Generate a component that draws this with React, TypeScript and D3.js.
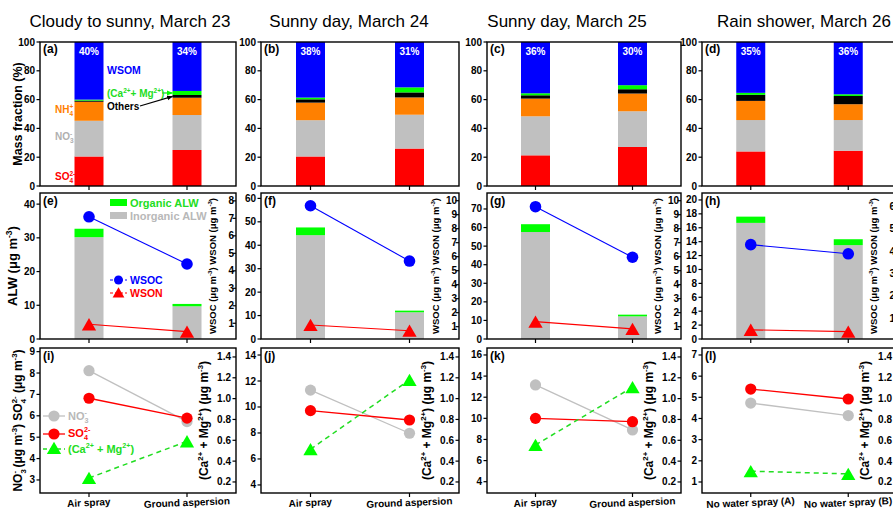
import React, { useEffect } from "react";
import * as d3 from "d3";

const W = 893, H = 512;
const FONT = "'Liberation Sans', Arial, Helvetica, sans-serif";

// ---------- text / categories ----------
const titles = ["Cloudy to sunny, March 23", "Sunny day, March 24", "Sunny day, March 25", "Rain shower, March 26"];
const letters = [["(a)", "(b)", "(c)", "(d)"], ["(e)", "(f)", "(g)", "(h)"], ["(i)", "(j)", "(k)", "(l)"]];
const categories = [
  ["Air spray", "Ground aspersion"],
  ["Air spray", "Ground aspersion"],
  ["Air spray", "Ground aspersion"],
  ["No water spray (A)", "No water spray (B)"],
];

// ---------- row 1: mass fraction (%) ----------
const so4Frac = [[20.5, 25.0], [20.5, 26.0], [21.3, 27.1], [24.0, 24.5]];
const no3Frac = [[24.8, 24.3], [25.2, 23.5], [27.1, 24.8], [21.8, 21.3]];
const nh4Frac = [[13.2, 12.0], [12.2, 12.0], [12.3, 12.3], [13.3, 11.0]];
const othersFrac = [[0.8, 1.9], [2.3, 3.5], [2.3, 3.0], [4.2, 5.7]];
const camgFrac = [[0.7, 2.8], [1.2, 3.5], [1.4, 2.8], [1.4, 1.2]];
const wsomFrac = [[40.0, 34.0], [38.6, 31.5], [35.6, 30.0], [35.3, 36.3]];
const wsomLabels = [["40%", "34%"], ["38%", "31%"], ["36%", "30%"], ["35%", "36%"]];
const massTicks = [0, 20, 40, 60, 80, 100];

// ---------- row 2: ALW, WSOC, WSON ----------
const inorgALW = [[30.2, 9.7], [44.3, 11.4], [57.6, 12.2], [16.7, 13.5]];
const orgALW = [[2.5, 0.7], [3.3, 0.7], [4.2, 0.9], [0.9, 0.85]];
const wsoc = [[7.09, 4.39], [9.64, 5.69], [9.57, 5.96], [4.29, 3.88]];
const wson = [[0.94, 0.52], [1.12, 0.71], [1.36, 0.84], [0.48, 0.40]];
const alwDomain = [[0, 43.3], [0, 62.3], [0, 78.6], [0, 21]];
const alwTicks = [[0, 10, 20, 30, 40], [0, 10, 20, 30, 40, 50, 60], [0, 10, 20, 30, 40, 50, 60, 70], [0, 2, 4, 6, 8, 10, 12, 14, 16, 18, 20]];
const wsDomain = [[0.1, 8.45], [0.12, 10.55], [0.12, 10.55], [0.07, 6.6]];
const wsTicks = [[1, 2, 3, 4, 5, 6, 7, 8], [1, 2, 3, 4, 5, 6, 7, 8, 9, 10], [1, 2, 3, 4, 5, 6, 7, 8, 9, 10], [1, 2, 3, 4, 5, 6]];

// ---------- row 3: NO3-, SO4 2-, Ca+Mg ----------
const no3Conc = [[8.11, 5.73], [11.3, 7.98], [13.16, 8.9], [4.73, 4.14]];
const so4Conc = [[6.82, 5.89], [9.72, 9.0], [10.0, 9.68], [5.39, 4.92]];
const camgConc = [[0.238, 0.59], [0.514, 1.18], [0.555, 1.11], [0.303, 0.277]];
const ionDomain = [[2.39, 9.17], [3.38, 14.54], [2.93, 16.66], [0.48, 7.33]];
const ionTicks = [[3, 4, 5, 6, 7, 8, 9], [4, 6, 8, 10, 12, 14], [4, 6, 8, 10, 12, 14, 16], [1, 2, 3, 4, 5, 6, 7]];
const camgDomain = [0.094, 1.486];
const camgTicks = [0.2, 0.4, 0.6, 0.8, 1.0, 1.2, 1.4];

// ---------- layout ----------
const COLS = [
  { l: 40, r: 236, tx: 130 },
  { l: 261, r: 459, tx: 349 },
  { l: 487, r: 681, tx: 567 },
  { l: 702, r: 897, tx: 804 },
];
const R1 = { t: 42, b: 186 };
const R2 = { t: 193, b: 339 };
const R3 = { t: 348, b: 493 };
const BAR_W = 29;
const TRI_DY = 2; // places triangle's box centre on the value

const C = {
  red: "#FF0000",
  gray: "#C0C0C0",
  orange: "#FF8000",
  black: "#000000",
  green: "#00FF00",
  blue: "#0000FF",
  lgreen: "#22DD22",
};

const massKeys = ["so4", "no3", "nh4", "others", "camg", "wsom"];
const massColors: Record<string, string> = {
  so4: C.red, no3: C.gray, nh4: C.orange, others: C.black, camg: C.green, wsom: C.blue,
};

type Part = [string, string];
function Rich({ parts, fs, x = 0, y = 0, anchor = "start", fill = "#000", weight = "bold", transform }: any) {
  let cur = 0;
  let prevSub = "";
  const small = fs * 0.65;
  const spans = parts.map((p: Part, i: number) => {
    const [t, k] = p;
    const target = k === "sub" ? 0.3 * fs : k === "sup" || k === "supb" ? -0.42 * fs : 0;
    const dy = target - cur;
    cur = target;
    let dx = 0;
    if (k === "supb") dx = -prevSub.length * 0.556 * small;
    prevSub = k === "sub" ? t : "";
    return (
      <tspan key={i} dx={dx || undefined} dy={dy || undefined} fontSize={k ? small : fs}>
        {t}
      </tspan>
    );
  });
  return (
    <text x={x} y={y} textAnchor={anchor} fill={fill} fontWeight={weight} fontSize={fs} transform={transform}>
      {spans}
    </text>
  );
}

const UNIT: Part[] = [["(μg m", ""], ["-3", "sup"], [")", ""]];

function LeftAxis({ scale, ticks, x, fmt }: any) {
  return (
    <g>
      {ticks.map((t: number) => (
        <g key={t}>
          <line x1={x - 3.5} x2={x} y1={scale(t)} y2={scale(t)} stroke="#000" strokeWidth={1.2} />
          <text x={x - 5} y={scale(t) + 3.5} textAnchor="end" fontSize={10} fontWeight="bold">
            {fmt ? fmt(t) : t}
          </text>
        </g>
      ))}
    </g>
  );
}

function RightInnerAxis({ scale, ticks, x, fmt, gap = 5 }: any) {
  return (
    <g>
      {ticks.map((t: number) => (
        <g key={t}>
          <line x1={x - 3.5} x2={x} y1={scale(t)} y2={scale(t)} stroke="#000" strokeWidth={1.2} />
          <text x={x - gap} y={scale(t) + 3.5} textAnchor="end" fontSize={10} fontWeight="bold">
            {fmt ? fmt(t) : t}
          </text>
        </g>
      ))}
    </g>
  );
}

function BottomTicks({ xs, y }: any) {
  return (
    <g>
      {xs.map((x: number, i: number) => (
        <line key={i} x1={x} x2={x} y1={y} y2={y + 4} stroke="#000" strokeWidth={1.2} />
      ))}
    </g>
  );
}

function Box({ l, r, t, b }: any) {
  return <rect x={l} y={t} width={r - l} height={b - t} fill="none" stroke="#000" strokeWidth={1.4} />;
}

function MassPanel({ ci }: { ci: number }) {
  const col = COLS[ci];
  const x = d3.scalePoint<string>().domain(categories[ci]).range([col.l, col.r]).padding(0.5);
  const y = d3.scaleLinear().domain([0, 100]).range([R1.b, R1.t]);
  const rows = categories[ci].map((cat, j) => ({
    cat,
    so4: so4Frac[ci][j],
    no3: no3Frac[ci][j],
    nh4: nh4Frac[ci][j],
    others: othersFrac[ci][j],
    camg: camgFrac[ci][j],
    wsom: wsomFrac[ci][j],
  }));
  const series = d3.stack<any>().keys(massKeys)(rows);
  return (
    <g>
      <rect x={col.l} y={R1.t} width={col.r - col.l} height={R1.b - R1.t} fill="#fff" />
      {series.map((s) => (
        <g key={s.key} fill={massColors[s.key]}>
          {s.map((d: any, j: number) => (
            <rect
              key={j}
              x={(x(d.data.cat) as number) - BAR_W / 2}
              y={y(d[1])}
              width={BAR_W}
              height={Math.max(0, y(d[0]) - y(d[1]))}
            />
          ))}
        </g>
      ))}
      {categories[ci].map((cat, j) => (
        <text key={cat} x={x(cat)} y={R1.t + 13} textAnchor="middle" fill="#fff" fontSize={10} fontWeight="bold">
          {wsomLabels[ci][j]}
        </text>
      ))}
      <Box l={col.l} r={col.r} t={R1.t} b={R1.b} />
      <LeftAxis scale={y} ticks={massTicks} x={col.l} />
      <BottomTicks xs={categories[ci].map((c) => x(c))} y={R1.b} />
      <text x={col.l + 3} y={R1.t + 11} fontSize={12} fontWeight="bold">{letters[0][ci]}</text>
      {ci === 0 && <MassAnnotations x={x} y={y} rows={series} />}
    </g>
  );
}

function MassAnnotations({ x, y, rows }: any) {
  const cat2 = categories[0][1];
  const bx = (x(cat2) as number) - BAR_W / 2;
  const camgS = rows.find((s: any) => s.key === "camg")[1];
  const othS = rows.find((s: any) => s.key === "others")[1];
  const camgY = y((camgS[0] + camgS[1]) / 2);
  const othY = y((othS[0] + othS[1]) / 2);
  return (
    <g>
      <defs>
        <marker id="ahG" viewBox="0 0 10 10" refX="9" refY="5" markerWidth="5" markerHeight="5" orient="auto">
          <path d="M0,1 L10,5 L0,9 z" fill={C.green} />
        </marker>
        <marker id="ahK" viewBox="0 0 10 10" refX="9" refY="5" markerWidth="5" markerHeight="5" orient="auto">
          <path d="M0,1 L10,5 L0,9 z" fill="#000" />
        </marker>
      </defs>
      <text x={107} y={74} fill={C.blue} fontSize={10.5} fontWeight="bold">WSOM</text>
      <Rich x={107} y={97} fs={10} fill={C.lgreen}
        parts={[["(Ca", ""], ["2+", "sup"], ["+ Mg", ""], ["2+", "sup"], [")", ""]]} />
      <line x1={162} y1={camgY} x2={bx} y2={camgY} stroke={C.lgreen} strokeWidth={1.3} markerEnd="url(#ahG)" />
      <text x={107} y={110} fill="#000" fontSize={10} fontWeight="bold">Others</text>
      <line x1={140} y1={106} x2={bx} y2={othY} stroke="#000" strokeWidth={1.2} markerEnd="url(#ahK)" />
      <Rich x={55} y={113} fs={10} fill={C.orange} parts={[["NH", ""], ["4", "sub"], ["+", "supb"]]} />
      <Rich x={55} y={140} fs={10} fill="#b0b0b0" parts={[["NO", ""], ["3", "sub"], ["-", "supb"]]} />
      <Rich x={55} y={180} fs={10} fill={C.red} parts={[["SO", ""], ["4", "sub"], ["2-", "supb"]]} />
    </g>
  );
}

function AlwPanel({ ci }: { ci: number }) {
  const col = COLS[ci];
  const x = d3.scalePoint<string>().domain(categories[ci]).range([col.l, col.r]).padding(0.5);
  const yL = d3.scaleLinear().domain(alwDomain[ci]).range([R2.b, R2.t]);
  const yR = d3.scaleLinear().domain(wsDomain[ci]).range([R2.b, R2.t]);
  const cats = categories[ci];
  const line = d3.line<any>().x((d) => d[0]).y((d) => d[1]);
  const wsocPts = cats.map((c, j) => [x(c) as number, yR(wsoc[ci][j])]);
  const wsonPts = cats.map((c, j) => [x(c) as number, yR(wson[ci][j])]);
  const tri = d3.symbol().type(d3.symbolTriangle).size(88)();
  return (
    <g>
      <rect x={col.l} y={R2.t} width={col.r - col.l} height={R2.b - R2.t} fill="#fff" />
      {cats.map((c, j) => {
        const inorg = inorgALW[ci][j];
        const tot = inorg + orgALW[ci][j];
        const bx = (x(c) as number) - BAR_W / 2;
        return (
          <g key={c}>
            <rect x={bx} y={yL(inorg)} width={BAR_W} height={yL(0) - yL(inorg)} fill={C.gray} />
            <rect x={bx} y={yL(tot)} width={BAR_W} height={yL(inorg) - yL(tot)} fill={C.green} />
          </g>
        );
      })}
      <path d={line(wsocPts as any) || ""} stroke={C.blue} strokeWidth={1.1} fill="none" />
      <path d={line(wsonPts as any) || ""} stroke={C.red} strokeWidth={1.1} fill="none" />
      {wsocPts.map((p, j) => <circle key={j} cx={p[0]} cy={p[1]} r={5.8} fill={C.blue} />)}
      {wsonPts.map((p, j) => <path key={j} d={tri || ""} transform={`translate(${p[0]},${p[1] + TRI_DY})`} fill={C.red} />)}
      <Box l={col.l} r={col.r} t={R2.t} b={R2.b} />
      <LeftAxis scale={yL} ticks={alwTicks[ci]} x={col.l} />
      <RightInnerAxis scale={yR} ticks={wsTicks[ci]} x={col.r} gap={2} />
      <Rich transform={`translate(${col.r - 20},${(R2.t + R2.b) / 2}) rotate(-90)`} anchor="middle" fs={9.5}
        parts={[["WSOC ", ""], ...UNIT, [" WSON ", ""], ...UNIT]} />
      <BottomTicks xs={cats.map((c) => x(c))} y={R2.b} />
      <text x={col.l + 3} y={R2.t + 12} fontSize={12} fontWeight="bold">{letters[1][ci]}</text>
      {ci === 0 && <AlwLegend />}
    </g>
  );
}

function AlwLegend() {
  const tri = d3.symbol().type(d3.symbolTriangle).size(60)();
  return (
    <g>
      <rect x={110} y={199} width={17} height={7} fill={C.green} />
      <text x={130} y={207} fill={C.lgreen} fontSize={11} fontWeight="bold">Organic ALW</text>
      <rect x={110} y={212} width={17} height={7} fill={C.gray} />
      <text x={130} y={220} fill="#b8b8b8" fontSize={11} fontWeight="bold">Inorganic ALW</text>
      <line x1={110} x2={127} y1={280} y2={280} stroke={C.blue} strokeWidth={1.2} strokeDasharray="3,2" />
      <circle cx={118.5} cy={280} r={4.5} fill={C.blue} />
      <text x={130} y={284} fill={C.blue} fontSize={10.5} fontWeight="bold">WSOC</text>
      <line x1={110} x2={127} y1={293} y2={293} stroke={C.red} strokeWidth={1.2} strokeDasharray="3,2" />
      <path d={tri || ""} transform="translate(118.5,294)" fill={C.red} />
      <text x={130} y={297} fill={C.red} fontSize={10.5} fontWeight="bold">WSON</text>
    </g>
  );
}

function IonPanel({ ci }: { ci: number }) {
  const col = COLS[ci];
  const cats = categories[ci];
  const x = d3.scalePoint<string>().domain(cats).range([col.l, col.r]).padding(0.5);
  const yL = d3.scaleLinear().domain(ionDomain[ci]).range([R3.b, R3.t]);
  const yR = d3.scaleLinear().domain(camgDomain).range([R3.b, R3.t]);
  const line = d3.line<any>().x((d) => d[0]).y((d) => d[1]);
  const no3Pts = cats.map((c, j) => [x(c) as number, yL(no3Conc[ci][j])]);
  const so4Pts = cats.map((c, j) => [x(c) as number, yL(so4Conc[ci][j])]);
  const camgPts = cats.map((c, j) => [x(c) as number, yR(camgConc[ci][j])]);
  const tri = d3.symbol().type(d3.symbolTriangle).size(88)();
  const fmt = d3.format(".1f");
  return (
    <g>
      <rect x={col.l} y={R3.t} width={col.r - col.l} height={R3.b - R3.t} fill="#fff" />
      <path d={line(no3Pts as any) || ""} stroke={C.gray} strokeWidth={1.3} fill="none" />
      {no3Pts.map((p, j) => <circle key={j} cx={p[0]} cy={p[1]} r={5.6} fill={C.gray} />)}
      <path d={line(so4Pts as any) || ""} stroke={C.red} strokeWidth={1.3} fill="none" />
      {so4Pts.map((p, j) => <circle key={j} cx={p[0]} cy={p[1]} r={5.6} fill={C.red} />)}
      <path d={line(camgPts as any) || ""} stroke={C.lgreen} strokeWidth={1.5} strokeDasharray="5,4" fill="none" />
      {camgPts.map((p, j) => <path key={j} d={tri || ""} transform={`translate(${p[0]},${p[1] + TRI_DY})`} fill={C.green} />)}
      <Box l={col.l} r={col.r} t={R3.t} b={R3.b} />
      <LeftAxis scale={yL} ticks={ionTicks[ci]} x={col.l} />
      <RightInnerAxis scale={yR} ticks={camgTicks} x={col.r} fmt={fmt} gap={5} />
      <Rich transform={`translate(${col.r - 28},${(R3.t + R3.b) / 2}) rotate(-90)`} anchor="middle" fs={12}
        parts={[["(Ca", ""], ["2+", "sup"], [" + Mg", ""], ["2+", "sup"], [") ", ""], ...UNIT]} />
      <BottomTicks xs={cats.map((c) => x(c))} y={R3.b} />
      {cats.map((c) => (
        <text key={c} transform={`translate(${x(c)},${R3.b + 13}) rotate(-2.5)`} textAnchor="middle"
          fontSize={10} fontWeight="bold">{c}</text>
      ))}
      <text x={col.l + 3} y={R3.t + 12} fontSize={12} fontWeight="bold">{letters[2][ci]}</text>
      {ci === 0 && <IonLegend />}
    </g>
  );
}

function IonLegend() {
  const tri = d3.symbol().type(d3.symbolTriangle).size(88)();
  return (
    <g>
      <line x1={43} x2={65} y1={416} y2={416} stroke={C.gray} strokeWidth={1.3} />
      <circle cx={54} cy={416} r={5.6} fill={C.gray} />
      <Rich x={68} y={420} fs={11} fill="#b8b8b8" parts={[["NO", ""], ["3", "sub"], ["-", "supb"]]} />
      <line x1={43} x2={65} y1={434} y2={434} stroke={C.red} strokeWidth={1.3} />
      <circle cx={54} cy={434} r={5.6} fill={C.red} />
      <Rich x={68} y={437} fs={11} fill={C.red} parts={[["SO", ""], ["4", "sub"], ["2-", "supb"]]} />
      <line x1={43} x2={65} y1={449} y2={449} stroke={C.lgreen} strokeWidth={1.5} strokeDasharray="4,3" />
      <path d={tri || ""} transform="translate(54,450)" fill={C.green} />
      <Rich x={68} y={453} fs={11} fill={C.lgreen}
        parts={[["(Ca", ""], ["2+", "sup"], [" + Mg", ""], ["2+", "sup"], [")", ""]]} />
    </g>
  );
}

export default function App() {
  useEffect(() => {
    document.body.style.margin = "0";
  }, []);
  return (
    <svg width={W} height={H} style={{ display: "block", position: "absolute", left: 0, top: 0, fontFamily: FONT, background: "#fff" }}>
      {titles.map((t, i) => (
        <text key={t + i} x={COLS[i].tx} y={27} textAnchor="middle" fontSize={17}>{t}</text>
      ))}
      {COLS.map((_, i) => <MassPanel key={"m" + i} ci={i} />)}
      {COLS.map((_, i) => <AlwPanel key={"a" + i} ci={i} />)}
      {COLS.map((_, i) => <IonPanel key={"n" + i} ci={i} />)}
      <text transform={`translate(22,${(R1.t + R1.b) / 2}) rotate(-90)`} textAnchor="middle" fontSize={12.5} fontWeight="bold">
        Mass fraction (%)
      </text>
      <Rich transform={`translate(17,${(R2.t + R2.b) / 2}) rotate(-90)`} anchor="middle" fs={13}
        parts={[["ALW ", ""], ...UNIT]} />
      <Rich transform={`translate(22,${(R3.t + R3.b) / 2}) rotate(-90)`} anchor="middle" fs={12}
        parts={[["NO", ""], ["3", "sub"], ["-", "supb"], [" ", ""], ...UNIT, [" SO", ""], ["4", "sub"], ["2-", "supb"], [" ", ""], ...UNIT]} />
    </svg>
  );
}
